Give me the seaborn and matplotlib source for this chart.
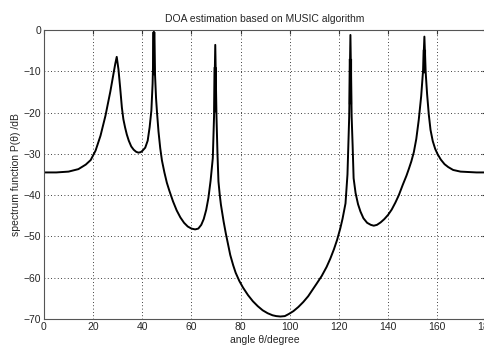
import numpy as np
import pandas as pd
import matplotlib
matplotlib.use("Agg")
from matplotlib import pyplot as plt
import seaborn as sns

# MUSIC spatial spectrum
angle_deg = [0, 5, 10, 14, 17, 19, 21, 23, 25, 27, 28, 29, 29.6, 30.3, 31, 31.7,
             32.3, 33, 33.7, 34.5, 35.5, 36.5, 37.5, 38.4, 39.3, 40, 41.2, 42.2,
             43, 43.7, 44.2, 44.7, 45.2, 45.6, 46, 46.6,
             47.3, 48, 49, 50, 51, 52.5, 54, 55.5, 57, 58.5, 60, 61.5, 62.8, 64,
             65, 66, 66.9, 67.8, 68.7, 69.2, 69.7, 70.2,
             70.6, 71, 71.5, 72, 72.6, 73.1, 74, 75, 75.8, 77, 78, 79.5, 81, 83,
             85, 87, 89, 91, 93, 94.5, 96.2, 98, 99.6, 101.5, 103.5, 105.5,
             107.5, 109.1, 111, 113, 115, 116.5, 118, 119.3, 120.6, 121.5, 122.7,
             123.5, 124.2, 124.7, 125.2, 125.6,
             126, 126.8, 127.8, 128.8, 130, 131.5, 133, 134.2, 135.5, 137, 138.5,
             140, 141.5, 143, 144.4, 146, 147.5, 148.5, 149.5, 150.5, 151.5,
             152.5, 153.5, 154.3, 154.8, 155.3,
             155.9, 156.6, 157.3, 158.2, 159.2, 160.2, 161.5, 163, 164.5, 166.5,
             169.5, 172.5, 176, 180]
spectrum_db = [-34.5, -34.5, -34.3, -33.7, -32.6, -31.5, -29.2, -25.6, -20.8,
               -14.9, -11.5, -8.2, -6.5, -9.5, -14.0, -18.8, -21.6, -23.6,
               -25.3, -26.8, -28.2, -29.0, -29.5, -29.7, -29.6, -29.3, -28.5,
               -26.8, -23.5, -19.5, -13.0, -0.3, -11.0, -16.5, -20.0, -24.6,
               -28.6, -31.6, -34.5, -37.0, -38.9, -41.5,
               -43.7, -45.4, -46.7, -47.6, -48.1, -48.3, -48.1, -47.2, -45.8,
               -43.6, -40.7, -36.5, -31.0, -21.0, -3.6, -21.0,
               -30.0, -36.7, -39.8, -42.3, -44.6, -46.4, -49.3,
               -52.2, -54.5, -57.0, -58.8, -60.8, -62.4, -64.2, -65.7, -66.9,
               -67.9, -68.6, -69.1, -69.3, -69.4, -69.3, -68.8, -68.1, -67.1,
               -65.9, -64.5, -63.1, -61.4, -59.6, -57.4, -55.4, -53.1, -50.8,
               -48.0, -45.7, -42.0, -35.0, -21.0, -1.2, -21.0, -28.0,
               -35.9, -39.5, -42.2, -44.0, -45.6, -46.7,
               -47.2, -47.4, -47.2, -46.6, -45.8, -44.8, -43.5, -41.8, -40.0,
               -37.5, -35.3, -33.6, -31.8, -29.6, -26.4, -21.8, -16.0, -9.5,
               -1.6, -10.0, -15.5, -20.5, -24.2,
               -26.9, -28.8, -30.1, -31.4, -32.5, -33.2, -33.9, -34.3, -34.4,
               -34.5, -34.5]

# jagged, thick-looking stretch just under each sharp peak
peak_angle = [44.7, 69.7, 124.7, 154.8]
thick_top = [-0.5, -9.0, -7.0, -4.8]
thick_bottom = [-11.0, -20.0, -18.0, -10.5]

x_ticks = [0, 20, 40, 60, 80, 100, 120, 140, 160, 180]
y_ticks = [-70, -60, -50, -40, -30, -20, -10, 0]

df = pd.DataFrame({"angle": angle_deg, "P": spectrum_db})

sns.set_style("white")
plt.rcParams['font.family'] = ['Liberation Sans', 'DejaVu Sans']

fig = plt.figure(figsize=(4.85, 3.49), dpi=100)
ax = fig.add_axes([0.0907, 0.086, 0.912, 0.828])
sns.lineplot(data=df, x="angle", y="P", sort=False, color="black",
             linewidth=1.4, ax=ax)
ax.vlines(peak_angle, thick_bottom, thick_top, color="black", linewidth=2.4,
          snap=False)

ax.set_xlim(0, 180)
ax.set_ylim(-70, 0)
ax.set_xticks(x_ticks)
ax.set_yticks(y_ticks)
ax.tick_params(direction="in", length=3, labelsize=7.5, top=True, right=True,
               color="#333333", pad=2)
ax.grid(True, color="black", linewidth=0.6, linestyle=(0, (1, 3)))
for side in ax.spines.values():
    side.set_color("#555555")
    side.set_linewidth(0.8)

ax.set_title("DOA estimation based on MUSIC algorithm", fontsize=7.5, pad=6)
ax.set_xlabel("angle θ/degree", fontsize=7.5, labelpad=2)
ax.set_ylabel("spectrum function P(θ) /dB", fontsize=7.5, labelpad=2)

plt.savefig("out.png", dpi=100)
